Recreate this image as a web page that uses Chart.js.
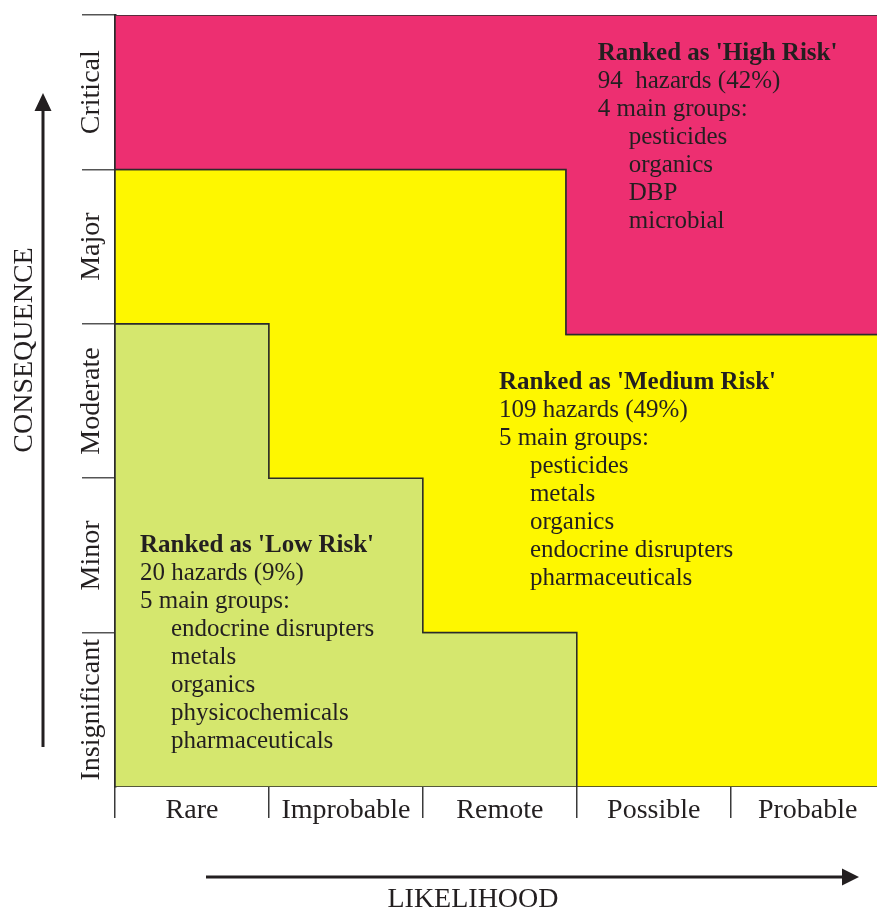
<!DOCTYPE html>
<html>
<head>
<meta charset="utf-8">
<title>Risk matrix</title>
<script src="https://cdn.jsdelivr.net/npm/chart.js@4.4.1/dist/chart.umd.min.js"></script>
<style>
  html, body { margin: 0; padding: 0; background: #fff; }
</style>
</head>
<body>
<canvas id="riskChart" width="877" height="912"></canvas>
<script>
// axis categories (x = likelihood, y = consequence), one unit per cell
const likelihoodLabels = ["Rare", "Improbable", "Remote", "Possible", "Probable"];
const consequenceLabels = ["Insignificant", "Minor", "Moderate", "Major", "Critical"];
const cellCentres = [0.5, 1.5, 2.5, 3.5, 4.5];

// zone outlines, in cell units
const highRiskZone = [
  { x: 0, y: 4 }, { x: 0, y: 5 }, { x: 5, y: 5 }, { x: 5, y: 2.93 },
  { x: 2.93, y: 2.93 }, { x: 2.93, y: 4 }, { x: 0, y: 4 },
];
const mediumRiskZone = [
  { x: 0, y: 3 }, { x: 0, y: 4 }, { x: 2.93, y: 4 }, { x: 2.93, y: 2.93 },
  { x: 5, y: 2.93 }, { x: 5, y: 0 }, { x: 3, y: 0 }, { x: 3, y: 1 },
  { x: 2, y: 1 }, { x: 2, y: 2 }, { x: 1, y: 2 }, { x: 1, y: 3 }, { x: 0, y: 3 },
];
const lowRiskZone = [
  { x: 0, y: 0 }, { x: 0, y: 3 }, { x: 1, y: 3 }, { x: 1, y: 2 },
  { x: 2, y: 2 }, { x: 2, y: 1 }, { x: 3, y: 1 }, { x: 3, y: 0 }, { x: 0, y: 0 },
];

// zone summaries
const highRiskNote = ["Ranked as 'High Risk'", "94  hazards (42%)", "4 main groups:"];
const highRiskGroups = ["pesticides", "organics", "DBP", "microbial"];
const mediumRiskNote = ["Ranked as 'Medium Risk'", "109 hazards (49%)", "5 main groups:"];
const mediumRiskGroups = ["pesticides", "metals", "organics", "endocrine disrupters", "pharmaceuticals"];
const lowRiskNote = ["Ranked as 'Low Risk'", "20 hazards (9%)", "5 main groups:"];
const lowRiskGroups = ["endocrine disrupters", "metals", "organics", "physicochemicals", "pharmaceuticals"];

const TEXT = "#231f20";
const SERIF = "'Liberation Serif', 'Times New Roman', serif";

function zoneDataset(data, color) {
  return {
    data: data,
    showLine: true,
    fill: "shape",
    backgroundColor: color,
    borderColor: "#2b2b2b",
    borderWidth: 1.5,
    pointRadius: 0,
    pointHoverRadius: 0,
    tension: 0,
  };
}

// where each summary block starts (cell units) and its indent for group names
const notes = [
  { x: 3.136, y: 4.71, head: highRiskNote, groups: highRiskGroups },
  { x: 2.494, y: 2.58, head: mediumRiskNote, groups: mediumRiskGroups },
  { x: 0.162, y: 1.522, head: lowRiskNote, groups: lowRiskGroups },
];

const riskDecor = {
  id: "riskDecor",
  afterDatasetsDraw(chart) {
    const { ctx } = chart;
    const xs = chart.scales.x;
    const ys = chart.scales.y;
    ctx.save();
    ctx.fillStyle = TEXT;
    ctx.textBaseline = "alphabetic";
    ctx.textAlign = "left";
    notes.forEach((n) => {
      const px = xs.getPixelForValue(n.x);
      const py = ys.getPixelForValue(n.y);
      const lines = n.head.concat(n.groups);
      lines.forEach((line, i) => {
        ctx.font = (i === 0 ? "bold " : "") + "25px " + SERIF;
        ctx.fillText(line, px + (i >= n.head.length ? 31 : 0), py + i * 28);
      });
    });

    // axis arrows
    ctx.strokeStyle = TEXT;
    ctx.lineWidth = 3;
    ctx.beginPath();
    ctx.moveTo(43, 747);
    ctx.lineTo(43, 106);
    ctx.moveTo(206, 877);
    ctx.lineTo(846, 877);
    ctx.stroke();
    ctx.beginPath();
    ctx.moveTo(43, 93);
    ctx.lineTo(34.5, 111);
    ctx.lineTo(51.5, 111);
    ctx.closePath();
    ctx.moveTo(859, 877);
    ctx.lineTo(842, 868.5);
    ctx.lineTo(842, 885.5);
    ctx.closePath();
    ctx.fill();

    // axis titles
    ctx.font = "28px " + SERIF;
    ctx.textAlign = "center";
    ctx.textBaseline = "middle";
    ctx.fillText("LIKELIHOOD", 473, 900);
    ctx.translate(25, 350);
    ctx.rotate(-Math.PI / 2);
    ctx.fillText("CONSEQUENCE", 0, 0);
    ctx.restore();
  },
};

const tickFont = { family: SERIF, size: 28 };

new Chart(document.getElementById("riskChart"), {
  type: "scatter",
  data: {
    datasets: [
      zoneDataset(highRiskZone, "#ED2F71"),
      zoneDataset(mediumRiskZone, "#FEF700"),
      zoneDataset(lowRiskZone, "#D5E76E"),
    ],
  },
  options: {
    responsive: false,
    animation: false,
    layout: { padding: { top: 15, right: 0, bottom: 0, left: 0 } },
    plugins: { legend: { display: false }, tooltip: { enabled: false } },
    scales: {
      x: {
        type: "linear",
        min: 0,
        max: 4.95,
        afterBuildTicks: (scale) => {
          scale.ticks = cellCentres.map((v) => ({ value: v }));
        },
        afterFit: (scale) => {
          scale.height = 125;
        },
        grid: {
          offset: true,
          drawOnChartArea: false,
          tickLength: 31,
          color: "#3a3a3a",
          lineWidth: 1.5,
        },
        border: { display: false },
        ticks: {
          autoSkip: false,
          maxRotation: 0,
          padding: -24,
          color: TEXT,
          font: tickFont,
          callback: (v, i) => likelihoodLabels[i],
        },
      },
      y: {
        type: "linear",
        min: 0,
        max: 5,
        afterBuildTicks: (scale) => {
          scale.ticks = cellCentres.map((v) => ({ value: v }));
        },
        afterFit: (scale) => {
          scale.width = 115;
          scale.paddingTop = 0;
          scale.paddingBottom = 0;
        },
        grid: {
          offset: true,
          drawOnChartArea: false,
          tickLength: 33,
          color: (c) => (c.index === 0 ? "rgba(0,0,0,0)" : "#555555"),
          lineWidth: 1.5,
        },
        border: { display: true, color: "#2b2b2b", width: 2.5 },
        ticks: {
          autoSkip: false,
          minRotation: 90,
          maxRotation: 90,
          crossAlign: "center",
          padding: -80,
          color: TEXT,
          font: tickFont,
          callback: (v, i) => consequenceLabels[i],
        },
      },
    },
  },
  plugins: [riskDecor],
});
</script>
</body>
</html>
